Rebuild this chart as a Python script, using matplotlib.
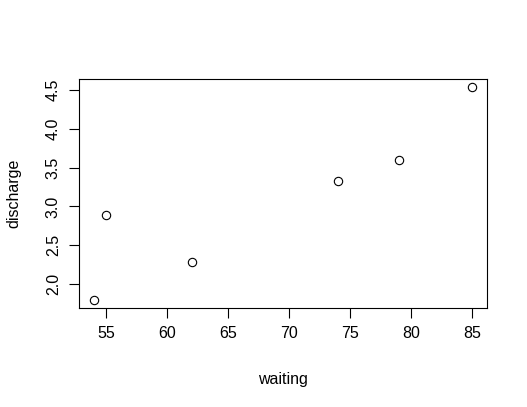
import matplotlib.pyplot as plt

plt.rcParams['font.family'] = ['Liberation Sans', 'DejaVu Sans']

# first rows of the Old Faithful data
waiting = [79, 54, 74, 62, 85, 55]
discharge = [3.600, 1.800, 3.333, 2.283, 4.533, 2.883]

fig = plt.figure(figsize=(5.27, 4.07), dpi=100)
ax = fig.add_axes([79 / 527, 1 - 308 / 407, 408 / 527, 229 / 407])

ax.plot(waiting, discharge, 'o', mfc='none', mec='black', ms=6, mew=0.8)

# R style 4% padding
def pad(v):
    lo, hi = min(v), max(v)
    d = (hi - lo) * 0.04
    return lo - d, hi + d

ax.set_xlim(*pad(waiting))
ax.set_ylim(*pad(discharge))
ax.set_xticks([55, 60, 65, 70, 75, 80, 85])
ax.set_yticks([2.0, 2.5, 3.0, 3.5, 4.0, 4.5])
ax.set_yticklabels(['2.0', '2.5', '3.0', '3.5', '4.0', '4.5'], rotation=90, va='center')

for s in ax.spines.values():
    s.set_linewidth(0.8)
ax.tick_params(direction='out', length=7, width=0.8, labelsize=11.5, pad=6)

ax.set_xlabel('waiting', fontsize=11.5, labelpad=22)
ax.set_ylabel('discharge', fontsize=11.5, labelpad=18)

fig.savefig('out.png', dpi=100)
